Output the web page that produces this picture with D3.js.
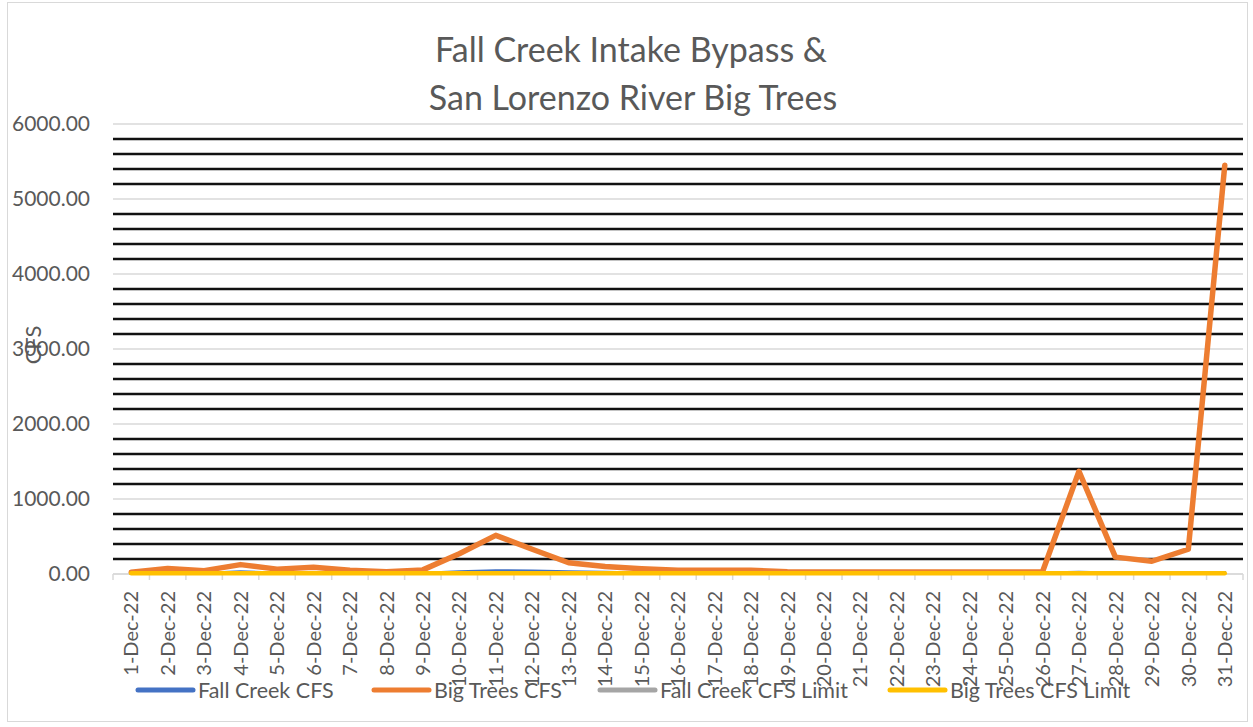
<!DOCTYPE html>
<html>
<head>
<meta charset="utf-8">
<script src="https://cdn.jsdelivr.net/npm/d3@7"></script>
<style>
  html, body { margin: 0; padding: 0; background: #fff; }
  svg { display: block; font-family: Lato, "Liberation Sans", sans-serif; }
</style>
</head>
<body>
<svg id="chart" width="1253" height="727"></svg>
<script>
// December 2022 daily flows (cubic feet per second)
const days = d3.range(1, 32).map(d => d + "-Dec-22");
const fallCreekCFS = [8, 10, 10, 30, 12, 12, 10, 8, 10, 30, 45, 40, 30, 25, 15, 12, 12, 12, 10, 10, 10, 10, 10, 10, 10, 12, 25, 15, 12, 15, 20];
const bigTreesCFS = [22, 75, 45, 125, 65, 90, 50, 30, 55, 270, 515, 330, 150, 100, 70, 50, 50, 50, 30, 28, 28, 27, 27, 27, 27, 30, 1370, 225, 170, 330, 5450];
const fallCreekLimit = [8, 8, 8, 8, 8, 8, 8, 8, 8, 8, 8, 8, 8, 8, 8, 8, 8, 8, 8, 8, 8, 8, 8, 8, 8, 8, 8, 8, 8, 8, 8];
const bigTreesLimit = [10, 10, 10, 10, 10, 10, 10, 10, 10, 10, 10, 10, 10, 10, 10, 10, 10, 10, 10, 10, 10, 10, 10, 10, 10, 10, 10, 10, 10, 10, 10];
const yTicks = [0, 1000, 2000, 3000, 4000, 5000, 6000];
const seriesNames = ["Fall Creek CFS", "Big Trees CFS", "Fall Creek CFS Limit", "Big Trees CFS Limit"];
const seriesColors = ["#4472c4", "#ed7d31", "#a5a5a5", "#ffc000"];
const seriesWidths = [3, 5.5, 3, 4.5];

const svg = d3.select("#chart");
const textColor = "#595959";

// chart frame
svg.append("rect")
  .attr("x", 7.5).attr("y", 2.5).attr("width", 1240).attr("height", 719)
  .attr("fill", "#fff").attr("stroke", "#d9d9d9").attr("stroke-width", 1);

const x = d3.scaleBand().domain(days).range([113, 1243]);
const y = d3.scaleLinear().domain([0, 6000]).range([574, 124]);

// title
const title = svg.append("text")
  .attr("text-anchor", "middle").attr("fill", textColor)
  .style("font-size", "34px");
title.append("tspan").attr("x", 631).attr("y", 62).text("Fall Creek Intake Bypass &");
title.append("tspan").attr("x", 633).attr("y", 110).text("San Lorenzo River Big Trees");

// major gridlines
svg.append("g")
  .selectAll("line").data(yTicks).join("line")
  .attr("x1", 113).attr("x2", 1243)
  .attr("y1", d => y(d)).attr("y2", d => y(d))
  .attr("stroke", "#d9d9d9").attr("stroke-width", 1.5);

// minor gridlines every 200
const minor = d3.range(200, 6000, 200).filter(v => v % 1000 !== 0);
svg.append("g")
  .selectAll("line").data(minor).join("line")
  .attr("x1", 113).attr("x2", 1243)
  .attr("y1", d => y(d)).attr("y2", d => y(d))
  .attr("stroke", "#111").attr("stroke-width", 2.5);

// y axis labels
const yAxis = d3.axisLeft(y).tickValues(yTicks).tickFormat(d3.format(".2f")).tickSize(0).tickPadding(0);
const gy = svg.append("g").attr("transform", "translate(90,0)").call(yAxis);
gy.select(".domain").remove();
gy.selectAll("text").attr("fill", textColor).style("font-size", "21px").style("font-family", "Lato, sans-serif");

// y axis title
svg.append("text")
  .attr("transform", "translate(33,345) rotate(-90)")
  .attr("text-anchor", "middle").attr("dy", "0.35em")
  .attr("fill", textColor).style("font-size", "22px")
  .text("CFS");

// x axis line and ticks between categories
svg.append("line")
  .attr("x1", 113).attr("x2", 1243).attr("y1", y(0)).attr("y2", y(0))
  .attr("stroke", "#d9d9d9").attr("stroke-width", 1.5);
const bounds = days.map(d => x(d)).concat([x.range()[1]]);
svg.append("g").selectAll("line").data(bounds).join("line")
  .attr("x1", d => d).attr("x2", d => d)
  .attr("y1", y(0)).attr("y2", y(0) + 6)
  .attr("stroke", "#d9d9d9").attr("stroke-width", 1.5);

// x labels
svg.append("g").selectAll("text").data(days).join("text")
  .attr("transform", d => `translate(${x(d) + x.bandwidth() / 2},591) rotate(-90)`)
  .attr("text-anchor", "end").attr("dy", "0.36em")
  .attr("fill", textColor).style("font-size", "20px")
  .text(d => d);

// series lines
const seriesData = [fallCreekCFS, bigTreesCFS, fallCreekLimit, bigTreesLimit];
const line = d3.line()
  .x((v, i) => x(days[i]) + x.bandwidth() / 2)
  .y(v => y(v));
seriesData.forEach((vals, k) => {
  svg.append("path")
    .datum(vals)
    .attr("d", line)
    .attr("fill", "none")
    .attr("stroke", seriesColors[k])
    .attr("stroke-width", seriesWidths[k])
    .attr("stroke-linejoin", "round")
    .attr("stroke-linecap", "round");
});

// legend
const legendX = [138, 374, 600, 890];
const legend = svg.append("g");
seriesNames.forEach((name, k) => {
  const g = legend.append("g").attr("transform", `translate(${legendX[k]},690)`);
  g.append("line").attr("x1", 0).attr("x2", 55).attr("y1", 0).attr("y2", 0)
    .attr("stroke", seriesColors[k]).attr("stroke-width", 5).attr("stroke-linecap", "round");
  g.append("text").attr("x", 60).attr("dy", "0.35em")
    .attr("fill", textColor).style("font-size", "21.5px").text(name);
});
</script>
</body>
</html>
